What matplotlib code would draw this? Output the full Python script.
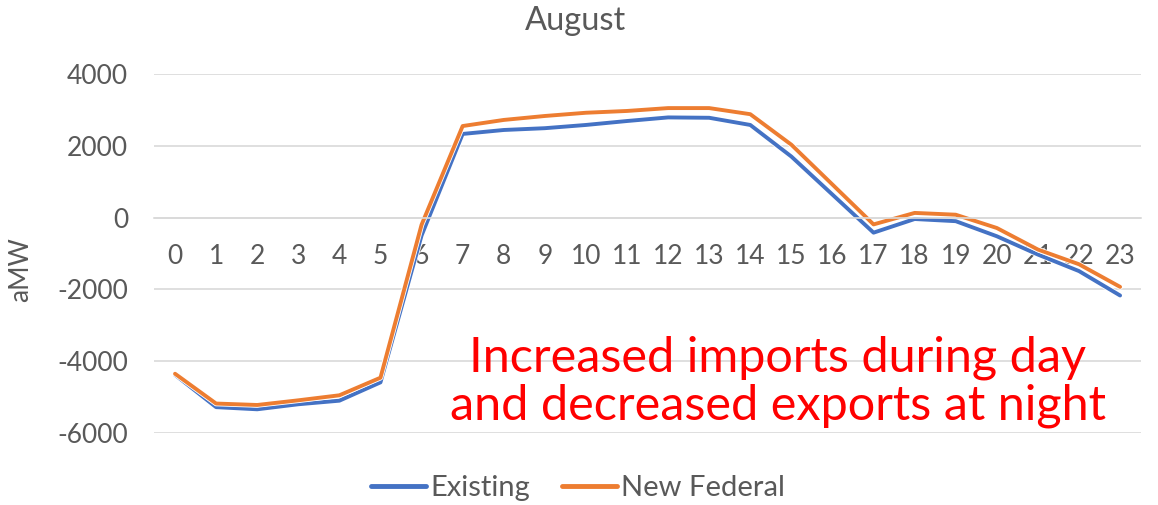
import matplotlib.pyplot as plt
import matplotlib.patheffects as pe
import numpy as np

hours = list(range(24))
existing = [-4380, -5280, -5340, -5200, -5100, -4590, -500, 2330, 2440, 2490,
            2580, 2690, 2790, 2780, 2580, 1700, 640, -420, -40, -100,
            -520, -1030, -1490, -2170]
new_federal = [-4350, -5180, -5220, -5090, -4950, -4460, -200, 2550, 2720, 2830,
               2920, 2970, 3050, 3050, 2880, 2030, 920, -190, 130, 80,
               -290, -890, -1300, -1930]
yticks = [-6000, -4000, -2000, 0, 2000, 4000]

gray = '#595959'
plt.rcParams['font.family'] = ['Lato', 'DejaVu Sans']

fig = plt.figure(figsize=(11.58, 5.05), dpi=100)
ax = fig.add_axes([0.1334, 0.1426, 0.8516, 0.7109])

outline = [pe.Stroke(linewidth=4.0, foreground='white'), pe.Normal()]
ax.plot(hours, existing, '-', color='#4472C4', lw=2.8, label='Existing',
        solid_capstyle='round', solid_joinstyle='round', path_effects=outline)
ax.plot(hours, new_federal, '-', color='#ED7D31', lw=2.8, label='New Federal',
        solid_capstyle='round', solid_joinstyle='round', path_effects=outline)

ax.set_xlim(-0.5, 23.5)
ax.set_ylim(-6000, 4000)
ax.set_yticks(yticks)
ax.set_yticklabels([str(v) for v in yticks])
ax.set_xticks(hours)
ax.set_xticklabels([str(h) for h in hours])
ax.grid(axis='y', color='#D9D9D9', lw=1.2)
ax.set_axisbelow(True)

for s in ['top', 'right', 'left']:
    ax.spines[s].set_visible(False)
ax.spines['bottom'].set_position(('data', 0))
ax.spines['bottom'].set_color('#D9D9D9')
ax.spines['bottom'].set_linewidth(1.2)
ax.tick_params(axis='both', length=0, labelsize=19, labelcolor=gray)
ax.tick_params(axis='x', pad=19)
ax.tick_params(axis='y', pad=19)

ax.set_ylabel('aMW', fontsize=19, color=gray)
ax.yaxis.set_label_coords(-0.123, 0.454)
fig.text(0.497, 0.958, 'August', ha='center', va='center', fontsize=23.5, color=gray)

ax.text(0.632, 0.143, 'Increased imports during day\nand decreased exports at night',
        transform=ax.transAxes, ha='center', va='center', fontsize=35,
        color='red', linespacing=1.08)

leg = fig.legend(loc='center', bbox_to_anchor=(0.499, 0.034), ncol=2, frameon=False,
                 fontsize=21, handlelength=1.9, handletextpad=0.12, columnspacing=1.1)
for line in leg.get_lines():
    line.set_linewidth(3.5)
for t in leg.get_texts():
    t.set_color(gray)

plt.savefig('out.png', dpi=100)
plt.close()
